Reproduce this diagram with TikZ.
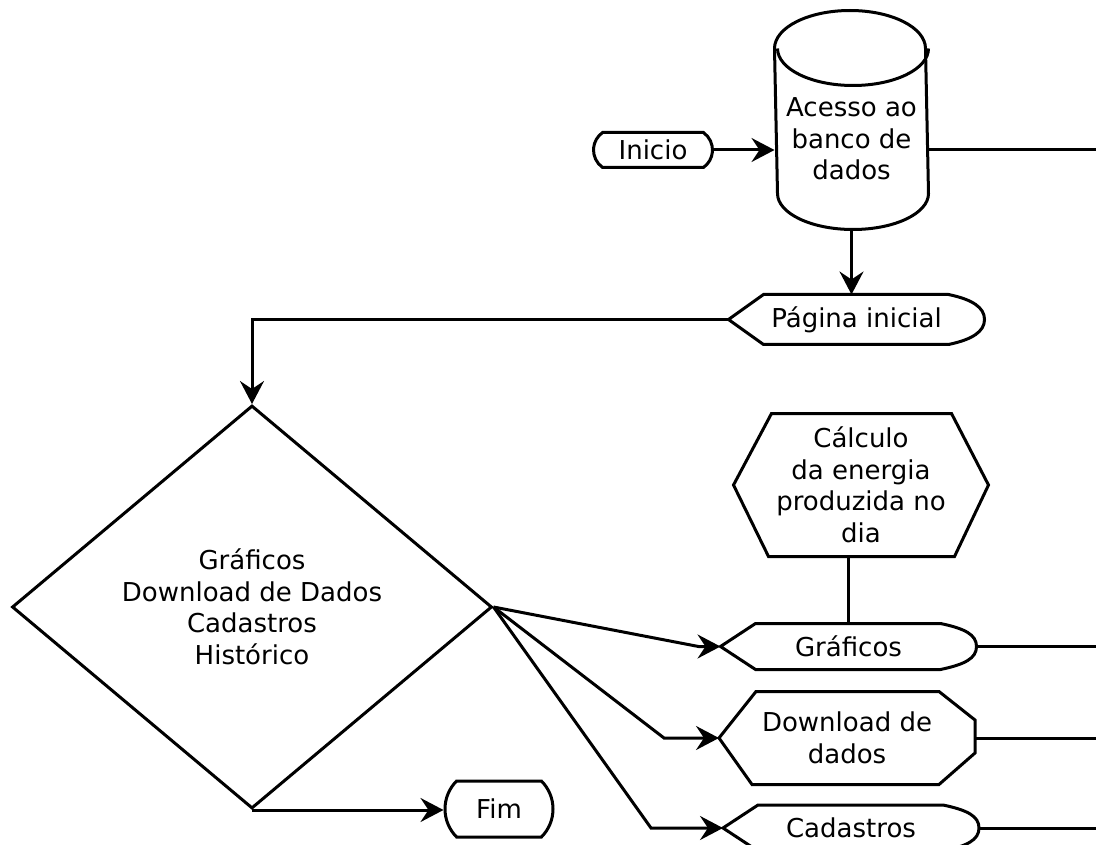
\documentclass[tikz,border=0pt]{standalone}
\usepackage{fontspec}
\setmainfont{DejaVu Sans}
\usetikzlibrary{shapes.geometric,shapes.misc,arrows.meta,calc}

\begin{document}
\begin{tikzpicture}[x=1pt,y=-1pt,line width=3pt,
% common options for the text boxes:
box/.style = {inner sep=0, align=center, font=\fontsize{26}{31.5}\selectfont},
% start and end:
term/.style = {box, draw, rounded rectangle, rounded rectangle arc length=110},
% display boxes, outline drawn from the anchors:
disp/.style = {box, minimum width=253pt, minimum height=#1},
arr/.style = {-{Stealth[length=23pt,width=24pt,inset=8pt]}}]
\useasboundingbox (0,0) rectangle (1096,845);
\node[term, minimum width=119pt, minimum height=35pt] (ini) at (653,150) {Inicio};
\node[box, minimum width=151pt, minimum height=178pt] (dbase) at (851.5,139) {Acesso ao\\banco de\\dados};
\node[disp=47pt] (pag) at (856.5,319.5) {Página inicial};
\node[box, draw, diamond, minimum width=480pt, minimum height=403pt] (dec) at (252,607) {Gráficos\\Download de Dados\\Cadastros\\Histórico};
\node[box, minimum width=252pt, minimum height=140pt] (calc) at (861,485) {Cálculo\\da energia\\produzida no\\dia};
\node[disp=43pt] (graf) at (848.5,646.5) {Gráficos};
\node[disp=90pt] (down) at (847,738) {Download de\\dados};
\node[disp=43pt] (cad) at (851,828) {Cadastros};
\node[term, minimum width=108pt, minimum height=56pt, rounded rectangle arc length=90] (fim) at (499,809) {Fim};
\coordinate (e1) at (1096,150);
% outlines
\draw (dbase.north west) arc[start angle=180,end angle=360,x radius=75.5,y radius=38]
  -- ($(dbase.south east)+(0,-36)$)
  arc[start angle=0,end angle=180,x radius=75.5,y radius=36] -- cycle;
\draw (dbase.north east) arc[start angle=0,end angle=180,x radius=75.5,y radius=37];
\draw (calc.west) -- ($(calc.north west)+(38,0)$) -- ($(calc.north east)+(-37,0)$) -- (calc.east)
  -- ($(calc.south east)+(-34,0)$) -- ($(calc.south west)+(35,0)$) -- cycle;
\foreach \n in {pag,graf,cad}
  \draw (\n.west) -- ($(\n.north west)+(35,0)$) -- ($(\n.north east)+(-36,0)$)
    .. controls +(24,5) and +(0,-12) .. (\n.east)
    .. controls +(0,12) and +(24,-5) .. ($(\n.south east)+(-36,0)$)
    -- ($(\n.south west)+(35,0)$) -- cycle;
\draw (down.west) -- ($(down.north west)+(37,0)$) -- ($(down.north east)+(-36,0)$)
  -- ($(down.east)+(0,-18)$) -- ($(down.east)+(0,15)$) -- ($(down.south east)+(-36,0)$)
  -- ($(down.south west)+(33,0)$) -- cycle;
% connectors
\draw[arr] (ini.east) -- (ini.east -| dbase.west);
\draw (dbase.east |- e1) -- (e1);
\draw[arr] (dbase.south) -- (dbase.south |- pag.north);
\draw[arr] (pag.west) -| (dec.north);
\draw[arr] (dec.east) -- ($(graf.west)+(-22,0)$) -- (graf.west);
\draw[arr] (dec.east) -- ($(down.west)+(-55,0)$) -- (down.west);
\draw[arr] (dec.east) -- ($(cad.west)+(-72,0)$) -- (cad.west);
\draw[arr] (dec.south) -- (dec.south -| fim.west);
\draw (graf.north |- calc.south) -- (graf.north);
\foreach \n in {graf,down,cad}
  \draw (\n.east) -- (\n.east -| e1);
\end{tikzpicture}
\end{document}
